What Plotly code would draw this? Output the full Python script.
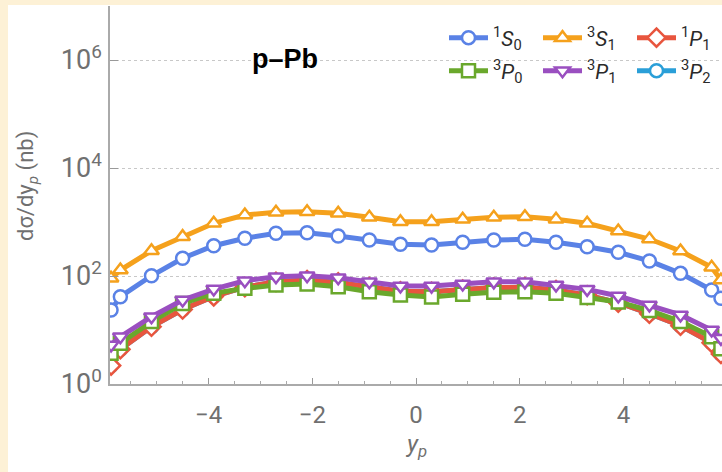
import plotly.graph_objects as go

# ---- data ----
x_vals = [-5.88, -5.7, -5.1, -4.5, -3.9, -3.3, -2.7, -2.1, -1.5, -0.9, -0.3,
          0.3, 0.9, 1.5, 2.1, 2.7, 3.3, 3.9, 4.5, 5.1, 5.7, 5.88]

s1_0 = [23.4, 41.4, 101, 213, 364, 499, 618, 634, 550, 464, 386,
        375, 421, 464, 478, 421, 349, 275, 190, 112, 55, 38.6]
s3_1 = [90.7, 129, 294, 535, 946, 1349, 1513, 1550, 1449, 1222, 1013,
        1013, 1122, 1222, 1254, 1122, 946, 681, 484, 290, 145, 84]
p1_1 = [2.2, 4.4, 11.5, 24, 42, 62, 78, 84, 76, 62, 52,
        51, 56, 61, 62, 55, 44, 32, 20, 12, 5.8, 3.6]
p3_0 = [3.7, 5.7, 14.3, 31, 48, 59, 68, 71, 63, 51, 44.5,
        41, 46, 50, 51, 48, 40, 33, 23, 14.3, 7.5, 4.5]
p3_1 = [5.3, 7.5, 17.6, 36, 57.4, 81.8, 97, 101, 93, 78.4, 65.3,
        65, 71, 78, 78, 68, 56.6, 42.6, 29, 19, 10, 7]
p3_2 = [2.2, 4.4, 11.5, 24, 42, 62, 78, 84, 76, 62, 52,
        51, 56, 61, 62, 55, 44, 32, 20, 12, 5.8, 3.6]

y_tickvals = [1, 100, 1e4, 1e6]
y_ticktext = ["10<sup>0</sup>", "10<sup>2</sup>", "10<sup>4</sup>", "10<sup>6</sup>"]
x_tickvals = [-4, -2, 0, 2, 4]
x_ticktext = ["\u22124", "\u22122", "0", "2", "4"]

# (name, values, color, symbol, legend, rank) -- drawing order
series = [
    ("<sup>3</sup><i>P</i><sub>2</sub>", p3_2, "#2a9fd8", "circle", "legend2", 6),
    ("<sup>1</sup><i>P</i><sub>1</sub>", p1_1, "#e8553e", "diamond", "legend", 3),
    ("<sup>3</sup><i>P</i><sub>0</sub>", p3_0, "#6aa82c", "square", "legend2", 4),
    ("<sup>3</sup><i>P</i><sub>1</sub>", p3_1, "#9a4fc0", "triangle-down", "legend2", 5),
    ("<sup>1</sup><i>S</i><sub>0</sub>", s1_0, "#5a82e6", "circle", "legend", 1),
    ("<sup>3</sup><i>S</i><sub>1</sub>", s3_1, "#f5a11c", "triangle-up", "legend", 2),
]

fig = go.Figure()
for name, vals, col, sym, leg, rank in series:
    fig.add_trace(go.Scatter(
        x=x_vals, y=vals, name=name, mode="lines+markers",
        line=dict(color=col, width=5),
        marker=dict(symbol=sym, size=13 if sym != "diamond" else 14,
                    color="white", line=dict(color=col, width=2.5)),
        legend=leg, legendrank=rank,
    ))

W, H = 722, 472
ml, mr, mt, mb = 110, 0, 6, 88
pw, ph = W - ml - mr, H - mt - mb

def px(xp):
    return (xp - ml) / pw

def py(yp):
    return (H - mb - yp) / ph

gray = "#707070"
leg_common = dict(orientation="h", xanchor="left", yanchor="middle",
                  entrywidth=40, entrywidthmode="pixels",
                  font=dict(size=21, color="#2a2a2a"),
                  bgcolor="rgba(0,0,0,0)", traceorder="normal", itemwidth=39)

fig.update_layout(
    width=W, height=H,
    margin=dict(l=ml, r=mr, t=mt, b=mb, autoexpand=False),
    paper_bgcolor="white", plot_bgcolor="white",
    font=dict(family="Roboto, sans-serif", color=gray),
    xaxis=dict(range=[-5.9, 5.9], tickvals=x_tickvals, ticktext=x_ticktext,
               ticks="inside", ticklen=6, tickwidth=1, tickcolor="#999",
               showline=True, linecolor="#aaa", linewidth=1.5,
               showgrid=False, zeroline=False, ticklabelstandoff=8,
               tickfont=dict(size=24, color=gray),
               minor=dict(dtick=0.5, tick0=0, ticks="inside", ticklen=3, tickcolor="#aaa", showgrid=False)),
    yaxis=dict(type="log", range=[0, 7], tickvals=y_tickvals, ticktext=y_ticktext,
               ticks="inside", ticklen=8, tickwidth=1, tickcolor="#999",
               showline=True, linecolor="#aaa", linewidth=1.5,
               showgrid=True, gridcolor="#c8c8c8", griddash="dot", gridwidth=1,
               zeroline=False, ticklabelstandoff=1,
               tickfont=dict(size=27, color=gray)),
    legend=dict(x=px(444), y=py(38), **leg_common),
    legend2=dict(x=px(444), y=py(71), **leg_common),
    showlegend=True,
    annotations=[
        dict(text="<b>p\u2013Pb</b>", x=px(285), y=py(59), xref="paper", yref="paper",
             xanchor="center", yanchor="middle", showarrow=False,
             font=dict(size=27, color="black", family="Liberation Sans, Arial")),
        dict(text="d\u03c3/dy<sub><i>p</i></sub> (nb)", x=px(27), y=py(186), xref="paper", yref="paper",
             xanchor="center", yanchor="middle", showarrow=False, textangle=-90,
             font=dict(size=22, color=gray)),
        dict(text="<i>y</i><sub><i>p</i></sub>", x=px(416), y=py(445), xref="paper", yref="paper",
             xanchor="center", yanchor="middle", showarrow=False,
             font=dict(size=24, color=gray)),
    ],
    shapes=[
        dict(type="rect", xref="paper", yref="paper", x0=px(0), x1=px(8), y0=py(H), y1=py(0),
             fillcolor="#fdf1d6", line=dict(width=0), layer="below"),
        dict(type="rect", xref="paper", yref="paper", x0=px(0), x1=px(W), y0=py(5), y1=py(0),
             fillcolor="#fdf1d6", line=dict(width=0), layer="below"),
    ],
)

fig.write_html("out.html")
